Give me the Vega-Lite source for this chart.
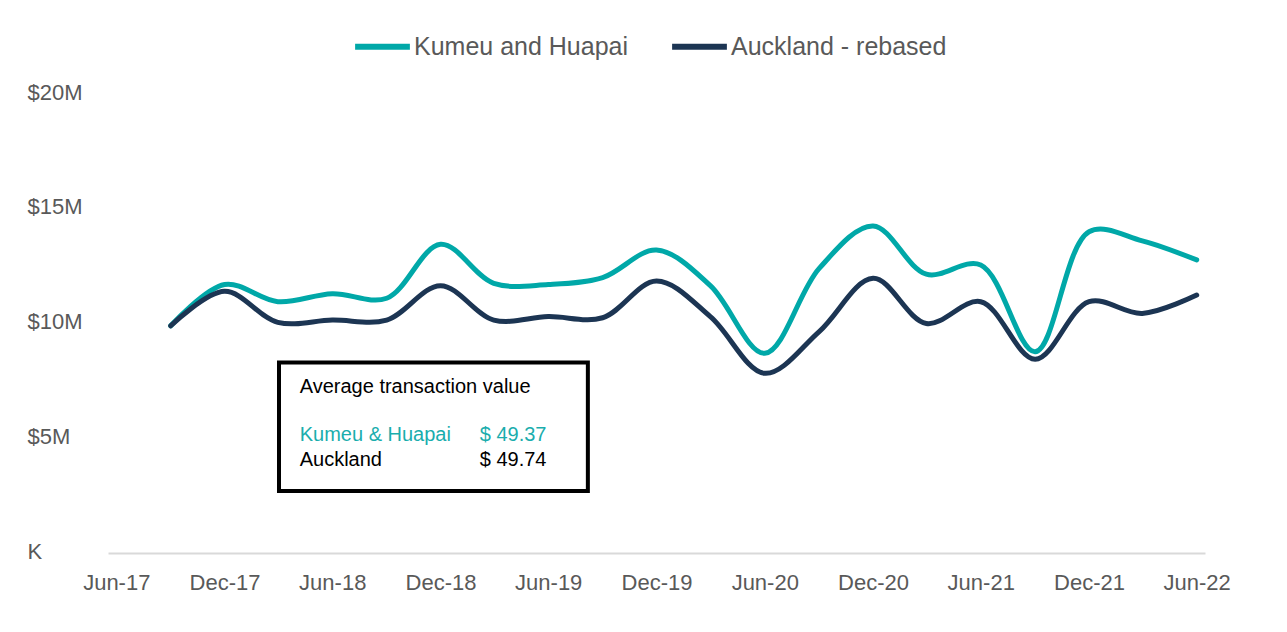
{
  "$schema": "https://vega.github.io/schema/vega-lite/v6.json",
  "width": 1097,
  "height": 459,
  "autosize": {"type": "none"},
  "padding": {"left": 108, "top": 94, "right": 82, "bottom": 79},
  "background": "white",
  "config": {"view": {"stroke": null}, "font": "Liberation Sans"},
  "datasets": {
    "series": [
      {"date": "2017-09-01", "series": "Kumeu and Huapai", "value": 9900000},
      {"date": "2017-12-01", "series": "Kumeu and Huapai", "value": 11700000},
      {"date": "2018-03-01", "series": "Kumeu and Huapai", "value": 10950000},
      {"date": "2018-06-01", "series": "Kumeu and Huapai", "value": 11300000},
      {"date": "2018-09-01", "series": "Kumeu and Huapai", "value": 11100000},
      {"date": "2018-12-01", "series": "Kumeu and Huapai", "value": 13450000},
      {"date": "2019-03-01", "series": "Kumeu and Huapai", "value": 11750000},
      {"date": "2019-06-01", "series": "Kumeu and Huapai", "value": 11700000},
      {"date": "2019-09-01", "series": "Kumeu and Huapai", "value": 12000000},
      {"date": "2019-12-01", "series": "Kumeu and Huapai", "value": 13200000},
      {"date": "2020-03-01", "series": "Kumeu and Huapai", "value": 11650000},
      {"date": "2020-06-01", "series": "Kumeu and Huapai", "value": 8700000},
      {"date": "2020-09-01", "series": "Kumeu and Huapai", "value": 12400000},
      {"date": "2020-12-01", "series": "Kumeu and Huapai", "value": 14250000},
      {"date": "2021-03-01", "series": "Kumeu and Huapai", "value": 12150000},
      {"date": "2021-06-01", "series": "Kumeu and Huapai", "value": 12550000},
      {"date": "2021-09-01", "series": "Kumeu and Huapai", "value": 8770000},
      {"date": "2021-12-01", "series": "Kumeu and Huapai", "value": 14000000},
      {"date": "2022-03-01", "series": "Kumeu and Huapai", "value": 13600000},
      {"date": "2022-06-01", "series": "Kumeu and Huapai", "value": 12770000},
      {"date": "2017-09-01", "series": "Auckland - rebased", "value": 9900000},
      {"date": "2017-12-01", "series": "Auckland - rebased", "value": 11400000},
      {"date": "2018-03-01", "series": "Auckland - rebased", "value": 10050000},
      {"date": "2018-06-01", "series": "Auckland - rebased", "value": 10150000},
      {"date": "2018-09-01", "series": "Auckland - rebased", "value": 10150000},
      {"date": "2018-12-01", "series": "Auckland - rebased", "value": 11650000},
      {"date": "2019-03-01", "series": "Auckland - rebased", "value": 10150000},
      {"date": "2019-06-01", "series": "Auckland - rebased", "value": 10300000},
      {"date": "2019-09-01", "series": "Auckland - rebased", "value": 10250000},
      {"date": "2019-12-01", "series": "Auckland - rebased", "value": 11850000},
      {"date": "2020-03-01", "series": "Auckland - rebased", "value": 10300000},
      {"date": "2020-06-01", "series": "Auckland - rebased", "value": 7830000},
      {"date": "2020-09-01", "series": "Auckland - rebased", "value": 9650000},
      {"date": "2020-12-01", "series": "Auckland - rebased", "value": 11970000},
      {"date": "2021-03-01", "series": "Auckland - rebased", "value": 10000000},
      {"date": "2021-06-01", "series": "Auckland - rebased", "value": 10950000},
      {"date": "2021-09-01", "series": "Auckland - rebased", "value": 8440000},
      {"date": "2021-12-01", "series": "Auckland - rebased", "value": 10950000},
      {"date": "2022-03-01", "series": "Auckland - rebased", "value": 10440000},
      {"date": "2022-06-01", "series": "Auckland - rebased", "value": 11240000}
    ],
    "box": [
      {"x1": "2018-03-03", "x2": "2019-08-07", "y1": 8300000, "y2": 2700000}
    ],
    "notes": [
      {"label": "Average transaction value", "group": "other", "col": "name", "date": "2018-04-07", "value": 6950000},
      {"label": "Kumeu & Huapai", "group": "Kumeu & Huapai", "col": "name", "date": "2018-04-07", "value": 4880000},
      {"label": "$ 49.37", "group": "Kumeu & Huapai", "col": "amount", "date": "2019-05-29", "value": 4880000},
      {"label": "Auckland", "group": "other", "col": "name", "date": "2018-04-07", "value": 3800000},
      {"label": "$ 49.74", "group": "other", "col": "amount", "date": "2019-05-29", "value": 3800000}
    ]
  },
  "layer": [
    {
      "data": {"name": "series"},
      "mark": {"type": "line", "interpolate": "catmull-rom", "strokeWidth": 5, "strokeCap": "round"},
      "encoding": {
        "x": {
          "field": "date", "type": "temporal",
          "scale": {"type": "utc", "domain": [{"year": 2017, "month": 5, "date": 18, "utc": true}, {"year": 2022, "month": 6, "date": 15, "utc": true}]},
          "axis": {
            "title": null,
            "values": [
              {"year": 2017, "month": 6, "date": 1, "utc": true},
              {"year": 2017, "month": 12, "date": 1, "utc": true},
              {"year": 2018, "month": 6, "date": 1, "utc": true},
              {"year": 2018, "month": 12, "date": 1, "utc": true},
              {"year": 2019, "month": 6, "date": 1, "utc": true},
              {"year": 2019, "month": 12, "date": 1, "utc": true},
              {"year": 2020, "month": 6, "date": 1, "utc": true},
              {"year": 2020, "month": 12, "date": 1, "utc": true},
              {"year": 2021, "month": 6, "date": 1, "utc": true},
              {"year": 2021, "month": 12, "date": 1, "utc": true},
              {"year": 2022, "month": 6, "date": 1, "utc": true}
            ],
            "labelExpr": "utcFormat(datum.value, '%b-%y')",
            "grid": false, "ticks": false, "tickSize": 0,
            "domainColor": "#D9D9D9", "domainWidth": 2,
            "labelFontSize": 22, "labelColor": "#595959", "labelPadding": 19,
            "labelFont": "Liberation Sans", "labelOverlap": false, "labelFlush": false
          }
        },
        "y": {
          "field": "value", "type": "quantitative",
          "scale": {"domain": [0, 20000000], "nice": false},
          "axis": {
            "title": null, "values": [0, 5000000, 10000000, 15000000, 20000000],
            "labelExpr": "datum.value == 0 ? 'K' : '$' + (datum.value / 1000000) + 'M'",
            "grid": false, "ticks": false, "tickSize": 0, "domain": false,
            "labelAlign": "left", "labelPadding": 81, "labelBaseline": "middle", "labelOffset": -2,
            "labelFontSize": 22, "labelColor": "#595959", "labelFont": "Liberation Sans"
          }
        },
        "color": {
          "field": "series", "type": "nominal",
          "scale": {"domain": ["Kumeu and Huapai", "Auckland - rebased"], "range": ["#00A8A8", "#1C3553"]},
          "legend": {
            "orient": "none", "legendX": 244, "legendY": -78, "direction": "horizontal",
            "title": null, "symbolType": "stroke", "symbolStrokeWidth": 6, "symbolSize": 3000,
            "labelFontSize": 25, "labelColor": "#595959", "labelOffset": 1, "columnPadding": 31,
            "labelFont": "Liberation Sans", "labelLimit": 400
          }
        }
      }
    },
    {
      "data": {"name": "box"},
      "mark": {"type": "rect", "fill": "white", "stroke": "black", "strokeWidth": 4},
      "encoding": {
        "x": {"field": "x1", "type": "temporal"},
        "x2": {"field": "x2"},
        "y": {"field": "y1", "type": "quantitative"},
        "y2": {"field": "y2"}
      }
    },
    {
      "data": {"name": "notes"},
      "transform": [{"filter": "datum.col == 'name'"}],
      "mark": {"type": "text", "fontSize": 20, "align": "left", "baseline": "alphabetic", "font": "Liberation Sans"},
      "encoding": {
        "x": {"field": "date", "type": "temporal"},
        "y": {"field": "value", "type": "quantitative"},
        "text": {"field": "label"},
        "fill": {"field": "group", "type": "nominal", "scale": {"domain": ["Kumeu & Huapai", "other"], "range": ["#1AADAD", "#000000"]}, "legend": null}
      }
    },
    {
      "data": {"name": "notes"},
      "transform": [{"filter": "datum.col == 'amount'"}],
      "mark": {"type": "text", "fontSize": 20, "align": "right", "baseline": "alphabetic", "font": "Liberation Sans"},
      "encoding": {
        "x": {"field": "date", "type": "temporal"},
        "y": {"field": "value", "type": "quantitative"},
        "text": {"field": "label"},
        "fill": {"field": "group", "type": "nominal", "scale": {"domain": ["Kumeu & Huapai", "other"], "range": ["#1AADAD", "#000000"]}, "legend": null}
      }
    }
  ]
}
